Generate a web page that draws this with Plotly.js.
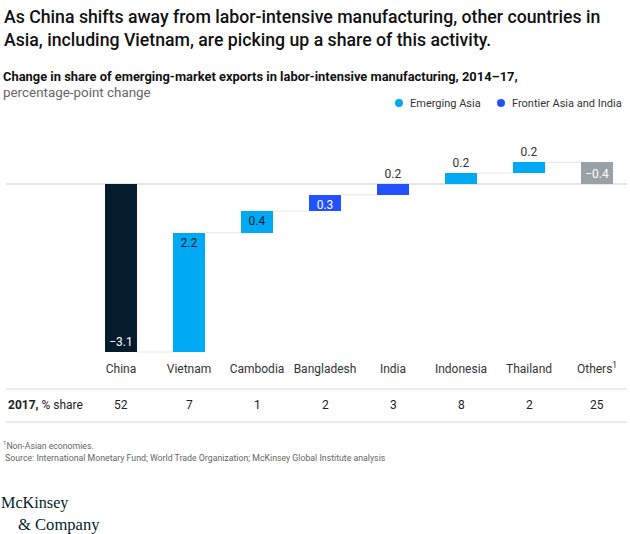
<!DOCTYPE html>
<html>
<head>
<meta charset="utf-8">
<script src="https://cdn.plot.ly/plotly-3.0.1.min.js"></script>
<style>html,body{margin:0;padding:0;background:#fff;}#chart{width:630px;height:534px;}</style>
</head>
<body>
<div id="chart"></div>
<script>
// ---- data ----
const categories = ['China', 'Vietnam', 'Cambodia', 'Bangladesh', 'India', 'Indonesia', 'Thailand', 'Others'];
const tickLabels = ['China', 'Vietnam', 'Cambodia', 'Bangladesh', 'India', 'Indonesia', 'Thailand', 'Others<sup>1</sup>'];
const changes = [-3.1, 2.2, 0.4, 0.3, 0.2, 0.2, 0.2, -0.4];
const groups = ['China', 'Emerging Asia', 'Emerging Asia', 'Frontier Asia and India', 'Frontier Asia and India', 'Emerging Asia', 'Emerging Asia', 'Others'];
const share2017 = [52, 7, 1, 2, 3, 8, 2, 25];
const legendGroups = ['Emerging Asia', 'Frontier Asia and India'];

// ---- styles ----
const groupColor = {
  'China': '#051c2c',
  'Emerging Asia': '#00a9f4',
  'Frontier Asia and India': '#2251ff',
  'Others': '#9aa1a6'
};
const FONT = 'Roboto, "Liberation Sans", Arial, sans-serif';
const SERIF = '"Liberation Serif", "DejaVu Serif", serif';
const W = 630, H = 534;
const M = {l: 6, r: 3, t: 110, b: 177};
const plotW = W - M.l - M.r;
const plotH = H - M.t - M.b;
const pyToPaper = py => (H - M.b - py) / plotH;
const pxToPaper = px => (px - M.l) / plotW;
const barWidth = 0.47;

// derived geometry
const idx = categories.map((c, i) => i);
const bases = [];
let cum = 0;
changes.forEach(v => { bases.push(cum); cum = +(cum + v).toFixed(6); });
const fmt = v => (v < 0 ? '\u2212' : '') + Math.abs(v).toFixed(1);
const textPos = groups.map((g, i) => (changes[i] > 0 && Math.abs(changes[i]) < 0.25) ? 'outside' : 'inside');
const textColors = categories.map((c, i) => {
  if (textPos[i] === 'outside') return '#333333';
  return (groupColor[groups[i]] === '#00a9f4') ? '#051c2c' : '#ffffff';
});

// connectors
const cx = [], cy = [];
for (let i = 0; i < categories.length - 1; i++) {
  const level = bases[i] + changes[i];
  cx.push(i + barWidth / 2, i + 1 - barWidth / 2, null);
  cy.push(level, level, null);
}

const traces = [
  {
    type: 'scatter', mode: 'lines', x: cx, y: cy,
    line: {color: '#e3e5e6', width: 1}, hoverinfo: 'skip', showlegend: false
  },
  {
    type: 'bar', x: idx, y: changes, base: bases, width: barWidth,
    marker: {color: groups.map(g => groupColor[g]), line: {width: 0}},
    text: changes.map(fmt), textposition: textPos, insidetextanchor: 'end',
    constraintext: 'none', cliponaxis: false,
    textfont: {family: FONT, size: 12, color: textColors},
    outsidetextfont: {family: FONT, size: 12, color: '#333333'},
    hoverinfo: 'x+y', showlegend: false
  }
];

const annotations = [
  {xref: 'paper', yref: 'paper', x: pxToPaper(2), y: pyToPaper(5), xanchor: 'left', yanchor: 'top', align: 'left',
   text: 'As China shifts away from labor-intensive manufacturing, other countries in<br>Asia, including Vietnam, are picking up a share of this activity.',
   showarrow: false, font: {family: FONT, size: 17.7, weight: 500, color: '#111111'}},
  {xref: 'paper', yref: 'paper', x: pxToPaper(1), y: pyToPaper(76), xanchor: 'left', yanchor: 'middle',
   text: '<b>Change in share of emerging-market exports in labor-intensive manufacturing, 2014\u201317,</b>',
   showarrow: false, font: {family: FONT, size: 12.9, color: '#111111'}},
  {xref: 'paper', yref: 'paper', x: pxToPaper(1), y: pyToPaper(93), xanchor: 'left', yanchor: 'middle',
   text: 'percentage-point change', showarrow: false, font: {family: FONT, size: 13.4, color: '#666666'}},
  {xref: 'paper', yref: 'paper', x: 0, y: pyToPaper(405), xanchor: 'left', yanchor: 'middle',
   text: '<b>2017,</b> % share', showarrow: false, font: {family: FONT, size: 12, color: '#222222'}},
  {xref: 'paper', yref: 'paper', x: pxToPaper(1), y: pyToPaper(445), xanchor: 'left', yanchor: 'middle',
   text: '<sup>1</sup>Non-Asian economies.', showarrow: false, font: {family: FONT, size: 8.7, color: '#666666'}},
  {xref: 'paper', yref: 'paper', x: pxToPaper(3), y: pyToPaper(458), xanchor: 'left', yanchor: 'middle',
   text: 'Source: International Monetary Fund; World Trade Organization; McKinsey Global Institute analysis',
   showarrow: false, font: {family: FONT, size: 8.75, color: '#666666'}},
  {xref: 'paper', yref: 'paper', x: pxToPaper(-1), y: pyToPaper(503), xanchor: 'left', yanchor: 'middle',
   text: 'McKinsey', showarrow: false, font: {family: SERIF, size: 16.2, color: '#051c2c'}},
  {xref: 'paper', yref: 'paper', x: pxToPaper(16), y: pyToPaper(524), xanchor: 'left', yanchor: 'middle',
   text: '&amp; Company', showarrow: false, font: {family: SERIF, size: 16.6, color: '#051c2c'}}
];
share2017.forEach((s, i) => annotations.push({
  xref: 'x', yref: 'paper', x: i, y: pyToPaper(405), xanchor: 'center', yanchor: 'middle',
  text: String(s), showarrow: false, font: {family: FONT, size: 12, color: '#222222'}
}));

const shapes = [
  {type: 'line', xref: 'paper', yref: 'paper', x0: 0, x1: 1, y0: pyToPaper(389), y1: pyToPaper(389), line: {color: '#e3e5e6', width: 1.5}},
  {type: 'line', xref: 'paper', yref: 'paper', x0: 0, x1: 1, y0: pyToPaper(422), y1: pyToPaper(422), line: {color: '#e3e5e6', width: 1.5}}
];

// custom legend (dot + label)
const legendDotX = [399, 501];
legendGroups.forEach((g, k) => {
  shapes.push({type: 'circle', xref: 'paper', yref: 'paper', xsizemode: 'pixel', ysizemode: 'pixel',
    xanchor: pxToPaper(legendDotX[k]), yanchor: pyToPaper(103), x0: -4, x1: 4, y0: -4, y1: 4,
    fillcolor: groupColor[g], line: {width: 0}});
  annotations.push({xref: 'paper', yref: 'paper', x: pxToPaper(legendDotX[k] + 9), y: pyToPaper(103),
    xanchor: 'left', yanchor: 'middle', text: g, showarrow: false,
    font: {family: FONT, size: 11, color: '#333333'}});
});

const layout = {
  width: W, height: H,
  margin: M,
  paper_bgcolor: '#ffffff', plot_bgcolor: '#ffffff',
  font: {family: FONT, color: '#333333'},
  xaxis: {
    range: [-1.691, 7.441], tickmode: 'array', tickvals: idx, ticktext: tickLabels,
    showgrid: false, zeroline: false, showline: false, ticks: 'outside', ticklen: 0.5, tickcolor: 'rgba(0,0,0,0)',
    fixedrange: true, tickfont: {family: FONT, size: 12, color: '#333333'}
  },
  yaxis: {
    range: [-3.192, 1.365], showgrid: false, showticklabels: false, ticks: '',
    zeroline: true, zerolinecolor: '#e3e5e6', zerolinewidth: 1.5, showline: false, fixedrange: true
  },
  showlegend: false,
  annotations: annotations,
  shapes: shapes,
  bargap: 0
};

Plotly.newPlot('chart', traces, layout, {displayModeBar: false, staticPlot: true});
</script>
</body>
</html>
